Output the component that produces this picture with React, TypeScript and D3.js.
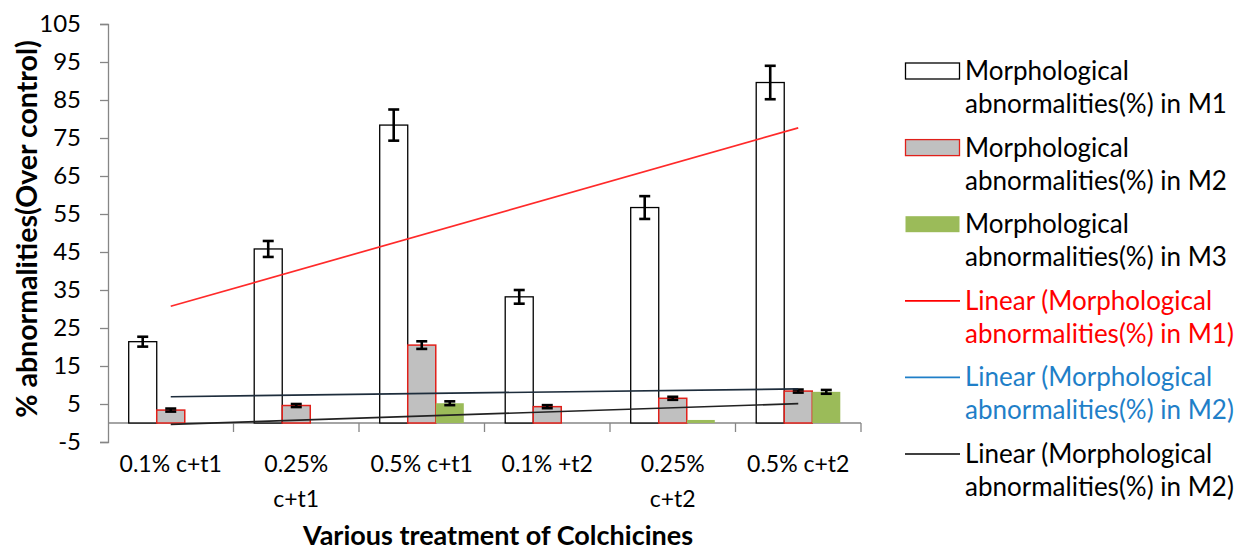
import React, { useRef, useEffect } from 'react';
import * as d3 from 'd3';

const categories = [['0.1% c+t1'], ['0.25%', 'c+t1'], ['0.5% c+t1'], ['0.1% +t2'], ['0.25%', 'c+t2'], ['0.5% c+t2']];
const m1 = [21.4, 45.8, 78.4, 33.2, 56.7, 89.6];
const m1Err = [1.3, 2.1, 4.1, 1.8, 3.0, 4.4];
const m2 = [3.4, 4.6, 20.5, 4.3, 6.5, 8.4];
const m2Err = [0.4, 0.4, 1.0, 0.4, 0.4, 0.4];
const m3 = [0, 0, 5.2, 0, 0.8, 8.2];
const m3Err = [0, 0, 0.5, 0, 0, 0.5];
const yTicks = [-5, 5, 15, 25, 35, 45, 55, 65, 75, 85, 95, 105];

const FONT = 'Lato, "Open Sans", sans-serif';

const legendItems = [
  { type: 'rect', fill: '#ffffff', stroke: '#000000', text: 'Morphological', text2: 'abnormalities(%) in M1', color: '#000000' },
  { type: 'rect', fill: '#c0c0c0', stroke: '#e0201a', text: 'Morphological', text2: 'abnormalities(%) in M2', color: '#000000' },
  { type: 'rect', fill: '#9bbb59', stroke: 'none', text: 'Morphological', text2: 'abnormalities(%) in M3', color: '#000000' },
  { type: 'line', stroke: '#ff0000', text: 'Linear (Morphological', text2: 'abnormalities(%) in M1)', color: '#ff0000' },
  { type: 'line', stroke: '#1f7fc8', text: 'Linear (Morphological', text2: 'abnormalities(%) in M2)', color: '#1f7fc8' },
  { type: 'line', stroke: '#000000', text: 'Linear (Morphological', text2: 'abnormalities(%) in M2)', color: '#000000' },
];

// least squares fit over category index 1..n
function fit(vals: number[]) {
  const xs = vals.map((_, i) => i + 1);
  const mx = d3.mean(xs)!;
  const my = d3.mean(vals)!;
  const sxy = d3.sum(xs, (x, i) => (x - mx) * (vals[i] - my));
  const sxx = d3.sum(xs, x => (x - mx) * (x - mx));
  const b = sxy / sxx;
  return (x: number) => my + b * (x - mx);
}

const Chart: React.FC = () => {
  const svgRef = useRef<SVGSVGElement | null>(null);

  useEffect(() => {
    if (!svgRef.current) return;
    const svg = d3.select(svgRef.current);
    svg.selectAll('*').remove();

    const left = 108, right = 861, top = 24, bottom = 442;

    const x0 = d3.scaleBand<number>()
      .domain(d3.range(categories.length))
      .range([left, right])
      .paddingInner(0)
      .paddingOuter(0);
    const gw = x0.bandwidth();
    const x1 = d3.scaleBand<number>()
      .domain([0, 1, 2])
      .range([gw * 0.165, gw * 0.835]);
    const y = d3.scaleLinear().domain([-5, 105]).range([bottom, top]);

    svg.append('rect').attr('width', 1245).attr('height', 550).attr('fill', '#fff');

    // y axis
    const ya = svg.append('g').attr('transform', `translate(${left},0)`)
      .call(d3.axisLeft(y).tickValues(yTicks).tickFormat(d => String(d)).tickSize(8).tickSizeOuter(8).tickPadding(19));
    ya.select('.domain').attr('stroke', '#868686').attr('stroke-width', 1.3);
    ya.selectAll('line').attr('stroke', '#868686').attr('stroke-width', 1.3);
    ya.selectAll('text').attr('font-family', FONT).attr('font-size', 24).attr('fill', '#000');

    // x axis at zero
    const xg = svg.append('g');
    xg.append('line').attr('x1', left).attr('x2', right).attr('y1', y(0)).attr('y2', y(0))
      .attr('stroke', '#868686').attr('stroke-width', 1.3);
    xg.selectAll('.tick').data(d3.range(1, categories.length + 1)).join('line')
      .attr('x1', d => left + d * gw).attr('x2', d => left + d * gw)
      .attr('y1', y(0)).attr('y2', y(0) + 9)
      .attr('stroke', '#868686').attr('stroke-width', 1.3);
    const lbl = xg.selectAll('.lbl').data(categories).join('text')
      .attr('x', (_, i) => x0(i)! + gw / 2)
      .attr('y', 472)
      .attr('text-anchor', 'middle')
      .attr('font-family', FONT).attr('font-size', 23).attr('fill', '#000');
    lbl.selectAll('tspan').data(d => d).join('tspan')
      .attr('x', function () { return (this.parentNode as SVGTextElement).getAttribute('x'); })
      .attr('dy', (_, i) => (i === 0 ? 0 : 35))
      .text(d => d);

    const series = [
      { vals: m1, err: m1Err, fill: '#ffffff', stroke: '#000000', sw: 1.3 },
      { vals: m2, err: m2Err, fill: '#c0c0c0', stroke: '#e0201a', sw: 1.5 },
      { vals: m3, err: m3Err, fill: '#9bbb59', stroke: 'none', sw: 0 },
    ];

    series.forEach((s, si) => {
      svg.append('g').selectAll('rect').data(s.vals).join('rect')
        .attr('x', (_, i) => x0(i)! + x1(si)!)
        .attr('y', d => y(Math.max(d, 0)))
        .attr('width', x1.bandwidth())
        .attr('height', d => Math.abs(y(d) - y(0)))
        .attr('fill', s.fill)
        .attr('stroke', s.stroke)
        .attr('stroke-width', s.sw);
    });

    // error bars
    series.forEach((s, si) => {
      const g = svg.append('g').attr('stroke', '#000').attr('stroke-width', 2.6);
      s.vals.forEach((v, i) => {
        if (s.err[i] <= 0) return;
        const cx = x0(i)! + x1(si)! + x1.bandwidth() / 2;
        g.append('line').attr('x1', cx).attr('x2', cx).attr('y1', y(v + s.err[i])).attr('y2', y(v - s.err[i]));
        g.append('line').attr('x1', cx - 5.5).attr('x2', cx + 5.5).attr('y1', y(v + s.err[i])).attr('y2', y(v + s.err[i]));
        g.append('line').attr('x1', cx - 5.5).attr('x2', cx + 5.5).attr('y1', y(v - s.err[i])).attr('y2', y(v - s.err[i]));
      });
    });

    // trendlines
    const trends = [
      { vals: m1, color: '#ff2a2a' },
      { vals: m2, color: '#1e2d3c' },
      { vals: m3, color: '#222222' },
    ];
    trends.forEach(t => {
      const f = fit(t.vals);
      const xa = x0(0)! + gw / 2;
      const xb = x0(categories.length - 1)! + gw / 2;
      svg.append('line')
        .attr('x1', xa).attr('x2', xb)
        .attr('y1', y(f(1))).attr('y2', y(f(categories.length)))
        .attr('stroke', t.color).attr('stroke-width', 1.7);
    });

    // axis titles
    svg.append('text')
      .attr('transform', `translate(37,229) rotate(-90)`)
      .attr('text-anchor', 'middle')
      .attr('font-family', FONT).attr('font-weight', 'bold').attr('font-size', 28.5)
      .text('% abnormalities(Over control)');
    svg.append('text')
      .attr('x', 498).attr('y', 545)
      .attr('text-anchor', 'middle')
      .attr('font-family', FONT).attr('font-weight', 'bold').attr('font-size', 27)
      .text('Various treatment of Colchicines');

    // legend
    const legend = svg.append('g').attr('transform', 'translate(905,71)');
    const item = legend.selectAll('g').data(legendItems).join('g')
      .attr('transform', (_, i) => `translate(0,${i * 76.6})`);
    item.filter(d => d.type === 'rect').append('rect')
      .attr('x', 0.5).attr('y', -8).attr('width', 54).attr('height', 16)
      .attr('fill', d => d.fill!).attr('stroke', d => d.stroke).attr('stroke-width', 1.3);
    item.filter(d => d.type === 'line').append('line')
      .attr('x1', 0).attr('x2', 55).attr('y1', 0).attr('y2', 0)
      .attr('stroke', d => d.stroke).attr('stroke-width', 1.7);
    const lt = item.append('text').attr('font-family', FONT).attr('font-size', 26)
      .attr('fill', d => d.color);
    lt.append('tspan').attr('x', 60).attr('y', 9).text(d => d.text);
    lt.append('tspan').attr('x', 60).attr('y', 42).text(d => d.text2);
  }, []);

  return <svg ref={svgRef} width={1245} height={550} style={{ position: 'absolute', left: 0, top: 0 }} />;
};

export default function App() {
  return <Chart />;
}
